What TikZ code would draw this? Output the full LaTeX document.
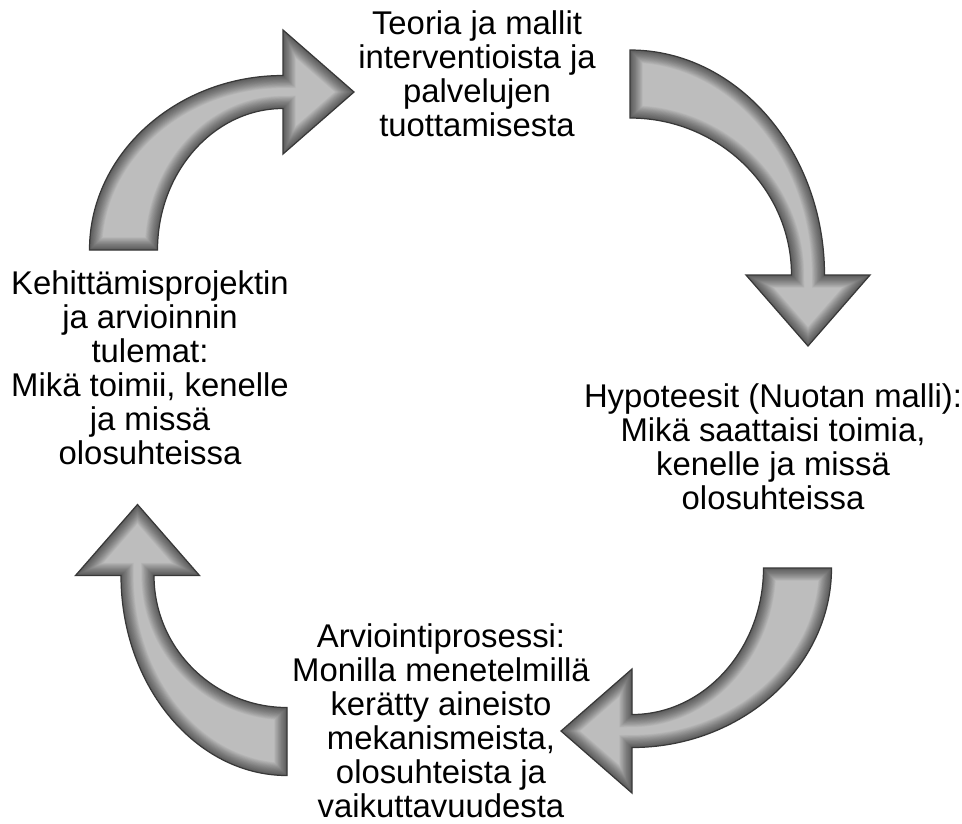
\documentclass[tikz,border=0pt]{standalone}
\usepackage{fontspec}
\setmainfont{Liberation Sans}
\begin{document}
\begin{tikzpicture}[x=0.02cm, y=0.02cm,
    steptext/.style={align=center, inner sep=0pt,
      font=\fontsize{18.7pt}{19.3pt}\selectfont},
    arrowbody/.style={fill=black!26},
    arrowrim/.style={draw=black!78, line width=0.7pt, line join=miter}]
  \useasboundingbox (0,0) rectangle (962,-823);
  % bent arrows: tail centre, turn, head base in the arrow's own frame
  \foreach \tx/\ty/\rot/\hx/\hy in {123.5/-250/0/159.5/158, 630/-84/-90/191/178,
      797.5/-568/180/165.5/163, 287/-741.5/90/166/149.5} {
    \begin{scope}[shift={(\tx,\ty)}, rotate=\rot]
      \def\arrowpath{(-34,0) .. controls (-34,{0.55*(\hy+16.5)})
          and ({\hx-0.55*(\hx+34)},\hy+16.5) .. (\hx,\hy+16.5)
        -- (\hx,\hy+62) -- (\hx+71,\hy) -- (\hx,\hy-62) -- (\hx,\hy-16.5)
        .. controls ({\hx-0.55*(\hx-34)},\hy-16.5)
          and (34,{0.55*(\hy-16.5)}) .. (34,0) -- cycle}
      \begin{scope}
        \clip \arrowpath;
        \fill[arrowbody] \arrowpath;
        \foreach \w in {1,...,16}
          \draw[black, opacity=0.04, line width=\w*0.9pt] \arrowpath;
      \end{scope}
      \draw[arrowrim] \arrowpath;
    \end{scope}
  }
  \node[steptext] (theory) at (477,-74)
    {Teoria ja mallit\\interventioista ja\\palvelujen\\tuottamisesta};
  \node[steptext] (hypotheses) at (773,-447)
    {Hypoteesit (Nuotan malli):\\Mikä saattaisi toimia,\\kenelle ja missä\\olosuhteissa};
  \node[steptext] (evaluation) at (441,-721)
    {Arviointiprosessi:\\Monilla menetelmillä\\kerätty aineisto\\mekanismeista,\\olosuhteista ja\\vaikuttavuudesta};
  \node[steptext] (outcomes) at (150,-368)
    {Kehittämisprojektin\\ja arvioinnin\\tulemat:\\Mikä toimii, kenelle\\ja missä\\olosuhteissa};
\end{tikzpicture}
\end{document}
